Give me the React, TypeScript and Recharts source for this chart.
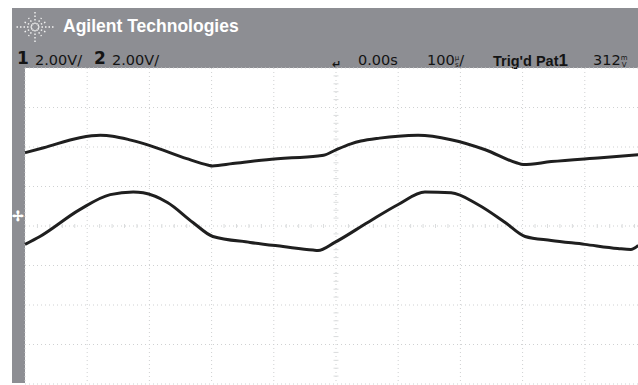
import React from 'react';
import { LineChart, Line, XAxis, YAxis, CartesianGrid, ReferenceLine } from 'recharts';

// time in µs (100 µs/div, trigger at 0), volts (2 V/div)
const ch1Time = [-500, -470, -412, -379, -359, -330, -299, -240, -205, -199, -166, -111, -29, -20, 0, 24, 40, 70, 100, 132, 185, 240, 290, 301, 346, 426, 486];
const ch1Volts = [3.71, 3.96, 4.47, 4.59, 4.55, 4.35, 4.07, 3.41, 3.08, 3.04, 3.16, 3.36, 3.55, 3.58, 3.86, 4.16, 4.3, 4.45, 4.55, 4.59, 4.37, 3.86, 3.2, 3.11, 3.26, 3.46, 3.61];

const ch2Time = [-500, -476, -412, -363, -326, -310, -271, -230, -198, -138, -85, -37, -29, -2, 51, 100, 143, 185, 228, 272, 304, 346, 400, 453, 474, 486];
const ch2Volts = [-0.93, -0.53, 0.83, 1.59, 1.72, 1.68, 1.19, 0.18, -0.53, -0.83, -1.04, -1.22, -1.24, -0.83, 0.18, 1.09, 1.72, 1.68, 1.09, 0.18, -0.53, -0.73, -0.93, -1.14, -1.19, -0.98];

const timeTicks = [-400, -300, -200, -100, 0, 100, 200, 300, 400];
const voltTicks = [-6, -4, -2, 0, 2, 4, 6];
const minorTime = [-480, -460, -440, -420, -380, -360, -340, -320, -280, -260, -240, -220, -180, -160, -140, -120, -80, -60, -40, -20, 20, 40, 60, 80, 120, 140, 160, 180, 220, 240, 260, 280, 320, 340, 360, 380, 420, 440, 460, 480];
const minorVolt = [-7.6, -7.2, -6.8, -6.4, -5.6, -5.2, -4.8, -4.4, -3.6, -3.2, -2.8, -2.4, -1.6, -1.2, -0.8, -0.4, 0.4, 0.8, 1.2, 1.6, 2.4, 2.8, 3.2, 3.6, 4.4, 4.8, 5.2, 5.6, 6.4, 6.8, 7.2, 7.6];

const ch1Data = ch1Time.map((t, i) => ({ t, v: ch1Volts[i] }));
const ch2Data = ch2Time.map((t, i) => ({ t, v: ch2Volts[i] }));

const GRAY = '#8d8e93';
const TRACE = '#1f1f1f';
const GRIDC = '#cfd1d2';
const SCOPE = '"DejaVu Sans", Verdana, sans-serif';

const Logo = () => {
  const angles = [0, 30, 60, 90, 120, 150, 180, 210, 240, 270, 300, 330];
  return (
    <svg width={42} height={32} style={{ position: 'absolute', left: 14, top: 11 }}>
      {angles.map((a) => {
        const r = (a * Math.PI) / 180;
        const long = a % 90 === 0 ? 19 : 13;
        return (
          <line
            key={a}
            x1={21 + Math.cos(r) * 3}
            y1={16 + Math.sin(r) * 3}
            x2={21 + Math.cos(r) * long}
            y2={16 + Math.sin(r) * long * 0.8}
            stroke="#f4f4f4"
            strokeWidth={1.4}
            strokeDasharray="1.5 2"
          />
        );
      })}
    </svg>
  );
};

const Stack = ({ top, bottom }: { top: string; bottom: string }) => (
  <span style={{ display: 'inline-flex', flexDirection: 'column', fontSize: 7, lineHeight: '7px', verticalAlign: 'top', marginTop: 3, textAlign: 'center' }}>
    <span>{top}</span>
    <span>{bottom}</span>
  </span>
);

export default function App() {
  const txt: React.CSSProperties = { position: 'absolute', whiteSpace: 'nowrap', color: '#141414', fontSize: 14.5, top: 52, fontFamily: SCOPE, lineHeight: '17px' };
  return (
    <div style={{ position: 'absolute', left: 0, top: 0, width: 638, height: 385, background: '#fff', overflow: 'hidden', fontFamily: '"Liberation Sans", Arial, sans-serif' }}>
      <div style={{ position: 'absolute', left: 12, top: 8, width: 626, height: 60, background: GRAY }} />
      <div style={{ position: 'absolute', left: 12, top: 68, width: 13, height: 315, background: GRAY }} />
      <Logo />
      <div style={{ position: 'absolute', left: 63, top: 16, color: '#fff', fontWeight: 'bold', fontSize: 17.5, whiteSpace: 'nowrap' }}>
        Agilent Technologies
      </div>
      <div style={{ ...txt, left: 17, fontWeight: 'bold', fontSize: 17, top: 50 }}>1</div>
      <div style={{ ...txt, left: 35 }}>2.00V/</div>
      <div style={{ ...txt, left: 94, fontWeight: 'bold', fontSize: 17, top: 50 }}>2</div>
      <div style={{ ...txt, left: 112 }}>2.00V/</div>
      <div style={{ ...txt, left: 332, fontSize: 11, top: 56, fontWeight: 'bold' }}>↵</div>
      <div style={{ ...txt, left: 358 }}>0.00s</div>
      <div style={{ ...txt, left: 427 }}>
        100<Stack top="µ" bottom="s" />/
      </div>
      <div style={{ ...txt, left: 493, fontWeight: 'bold', fontFamily: '"Liberation Sans", Arial, sans-serif' }}>
        Trig'd Pat<span style={{ fontSize: 17 }}>1</span>
      </div>
      <div style={{ ...txt, left: 593 }}>
        312<Stack top="m" bottom="V" />
      </div>
      <div style={{ position: 'absolute', left: 12, top: 208, color: '#fff', fontSize: 14, fontWeight: 'bold', lineHeight: '16px' }}>✢</div>
      <div style={{ position: 'absolute', left: 0, top: 0 }}>
        <LineChart width={660} height={385} margin={{ top: 68, left: 25, right: 13, bottom: 1 }}>
          <XAxis dataKey="t" type="number" domain={[-500, 500]} ticks={timeTicks} hide allowDuplicatedCategory={false} />
          <YAxis type="number" domain={[-8, 8]} ticks={voltTicks} hide />
          <CartesianGrid stroke={GRIDC} strokeDasharray="1 3" />
          {minorTime.map((t) => (
            <ReferenceLine key={'mt' + t} segment={[{ x: t, y: -0.1 }, { x: t, y: 0.1 }]} stroke="#dadcdd" />
          ))}
          {minorVolt.map((v) => (
            <ReferenceLine key={'mv' + v} segment={[{ x: -4, y: v }, { x: 4, y: v }]} stroke="#dadcdd" />
          ))}
          <Line data={ch1Data} dataKey="v" type="monotone" stroke={TRACE} strokeWidth={3} dot={false} isAnimationActive={false} />
          <Line data={ch2Data} dataKey="v" type="monotone" stroke={TRACE} strokeWidth={3} dot={false} isAnimationActive={false} />
        </LineChart>
      </div>
    </div>
  );
}
